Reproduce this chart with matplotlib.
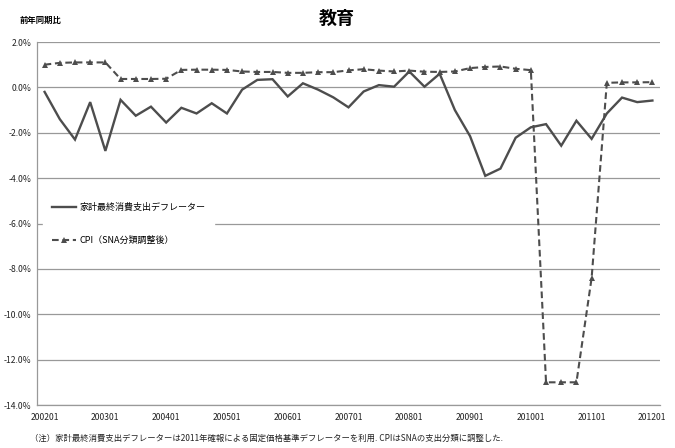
import matplotlib
matplotlib.use("Agg")
import matplotlib.pyplot as plt
from matplotlib.ticker import FixedLocator, FuncFormatter

plt.rcParams['font.family'] = ['Noto Sans CJK JP', 'DejaVu Sans']

# Quarterly periods 2002Q1 .. 2012Q1
periods = [f"{y}{q:02d}" for y in range(2002, 2013) for q in range(1, 5)][:41]
tick_labels = [f"{y}01" for y in range(2002, 2013)]

deflator = [-0.2, -1.4, -2.3, -0.65, -2.8, -0.55, -1.25, -0.85, -1.55, -0.9,
            -1.15, -0.7, -1.15, -0.1, 0.33, 0.36, -0.4, 0.18, -0.1, -0.44,
            -0.88, -0.18, 0.1, 0.03, 0.7, 0.03, 0.6, -1.0, -2.15, -3.9,
            -3.58, -2.22, -1.76, -1.62, -2.57, -1.47, -2.27, -1.15, -0.45, -0.65,
            -0.58]
cpi = [1.0, 1.08, 1.1, 1.1, 1.1, 0.37, 0.37, 0.37, 0.38, 0.77,
       0.78, 0.78, 0.77, 0.7, 0.68, 0.68, 0.64, 0.64, 0.67, 0.67,
       0.75, 0.8, 0.74, 0.7, 0.74, 0.69, 0.68, 0.7, 0.85, 0.9,
       0.92, 0.82, 0.76, -13.0, -13.0, -13.0, -8.4, 0.2, 0.22, 0.22,
       0.23]

label_defl = "家計最終消費支出デフレーター"
label_cpi = "CPI（SNA分類調整後）"
title = "教育"
ylabel_note = "前年同期比"
footnote = "（注）家計最終消費支出デフレーターは2011年確報による固定価格基準デフレーターを利用. CPIはSNAの支出分類に調整した."

fig = plt.figure(figsize=(6.75, 4.48), dpi=100)
ax = fig.add_axes([37 / 675, 1 - 405 / 448, (660 - 37) / 675, (405 - 42) / 448])

x = list(range(len(periods)))
line_col = "#4d4d4d"
ax.plot(x, deflator, color=line_col, lw=1.7, solid_joinstyle="miter",
        label=label_defl, zorder=3)
ax.plot(x, cpi, color=line_col, lw=1.5, ls=(0, (3.2, 1.8)), marker="^",
        markersize=4, markeredgewidth=0, label=label_cpi, zorder=3)

ax.set_xlim(-0.5, len(periods) - 0.5)
ax.set_ylim(-14, 2)
ax.yaxis.set_major_locator(FixedLocator(range(-14, 3, 2)))
ax.yaxis.set_major_formatter(FuncFormatter(lambda v, p: f"{v:.1f}%"))
ax.set_xticks([periods.index(t) for t in tick_labels])
ax.set_xticklabels(tick_labels)

ax.grid(axis="y", color="#999999", lw=0.9, zorder=0)
ax.set_axisbelow(True)
for side in ("top", "right"):
    ax.spines[side].set_visible(False)
for side in ("left", "bottom"):
    ax.spines[side].set_color("#999999")
    ax.spines[side].set_linewidth(0.9)
ax.tick_params(axis="both", length=0, labelsize=6.2, colors="#222222")
ax.tick_params(axis="y", pad=4)
ax.tick_params(axis="x", pad=6)

leg = ax.legend(loc="upper left", bbox_to_anchor=(0.01, 0.582), frameon=True,
                fancybox=False, edgecolor="white", facecolor="white",
                framealpha=1, fontsize=6.5, handlelength=2.6, labelspacing=2.7,
                borderpad=1.0, handletextpad=0.4, borderaxespad=0)
leg.set_zorder(5)

fig.text(337 / 675, 1 - 18 / 448, title, ha="center", va="center",
         fontsize=13, fontweight="bold")
fig.text(20 / 675, 1 - 20 / 448, ylabel_note, ha="left", va="center",
         fontsize=6, fontweight="bold")
fig.text(30 / 675, 1 - 438 / 448, footnote, ha="left", va="center",
         fontsize=6, color="#222222")

fig.savefig("out.png", dpi=100)
